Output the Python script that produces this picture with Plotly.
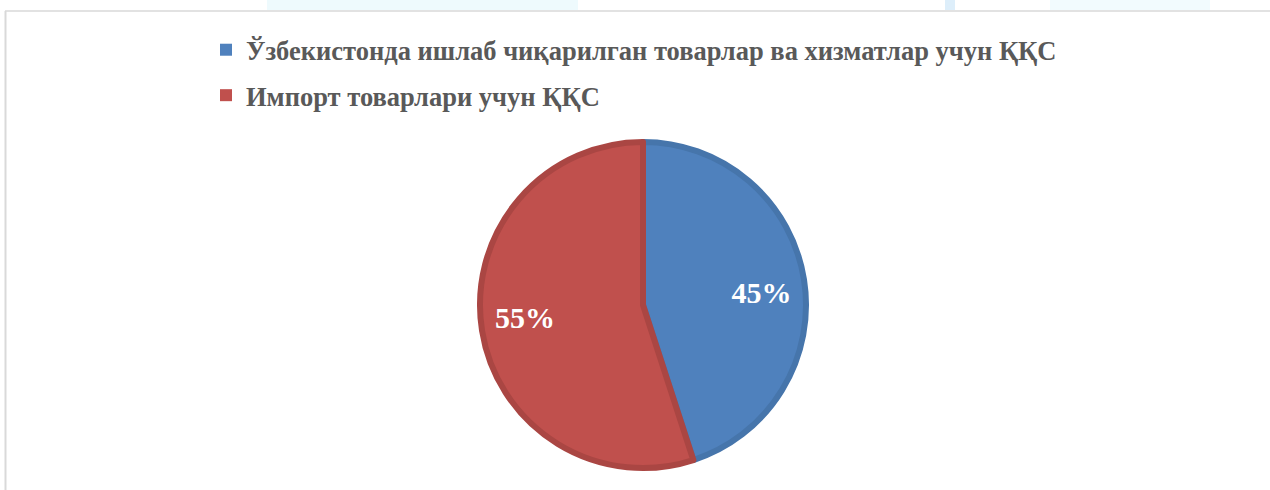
import plotly.graph_objects as go

labels = ["Ўзбекистонда ишлаб чиқарилган товарлар ва хизматлар учун ҚҚС",
          "Импорт товарлари учун ҚҚС"]
values = [45, 55]
fill_colors = ["#4F81BD", "#C0504D"]
line_colors = ["#4675AB", "#AA4643"]

W, H = 1270, 490
def px(x): return x / W
def py(y): return 1 - y / H

NB = "\u00A0"
text_templates = [NB * 10 + "%{percent:.0%}", "%{percent:.0%}" + NB * 10]

fig = go.Figure()
fig.add_trace(go.Pie(
    labels=labels, values=values, sort=False, direction="clockwise", rotation=0,
    marker=dict(colors=fill_colors, line=dict(color=line_colors, width=6)),
    texttemplate=text_templates, textposition="inside", insidetextorientation="horizontal",
    textfont=dict(family="Liberation Serif", size=30, color="white", weight="bold"),
    domain=dict(x=[px(480), px(806)], y=[py(468), py(142)]),
    hoverinfo="label+percent", showlegend=False,
))
# legend entries (one group per slice so the rows can be spaced like the original)
for lab, col in zip(labels, fill_colors):
    fig.add_trace(go.Scatter(
        x=[None], y=[None], mode="markers", name=lab, legendgroup=lab,
        marker=dict(symbol="square", size=12, color=col),
        showlegend=True, hoverinfo="skip",
    ))

fig.update_layout(
    width=W, height=H, margin=dict(l=0, r=0, t=0, b=0),
    paper_bgcolor="white", plot_bgcolor="white",
    xaxis=dict(visible=False), yaxis=dict(visible=False),
    legend=dict(x=px(206), y=py(26), xanchor="left", yanchor="top",
                font=dict(family="Liberation Serif", size=26.5, color="#595959", weight="bold"),
                itemwidth=30, tracegroupgap=8, bgcolor="rgba(0,0,0,0)",
                itemclick=False, itemdoubleclick=False),
    shapes=[
        dict(type="rect", xref="paper", yref="paper", x0=px(267), x1=px(578), y0=py(10), y1=1,
             fillcolor="#EEFAFD", line=dict(width=0), layer="below"),
        dict(type="rect", xref="paper", yref="paper", x0=px(945), x1=px(955), y0=py(10), y1=1,
             fillcolor="#DDEEFA", line=dict(width=0), layer="below"),
        dict(type="rect", xref="paper", yref="paper", x0=px(1050), x1=px(1210), y0=py(10), y1=1,
             fillcolor="#F2FBFE", line=dict(width=0), layer="below"),
        dict(type="line", xref="paper", yref="paper", x0=px(5), x1=1, y0=py(11), y1=py(11),
             line=dict(color="#D9D9D9", width=1.5)),
        dict(type="line", xref="paper", yref="paper", x0=px(5.5), x1=px(5.5), y0=0, y1=py(11),
             line=dict(color="#D9D9D9", width=2)),
    ],
)
fig.write_html("out.html", config={"displayModeBar": False},
               post_script="document.body.style.margin='0';document.body.style.overflow='hidden';")
